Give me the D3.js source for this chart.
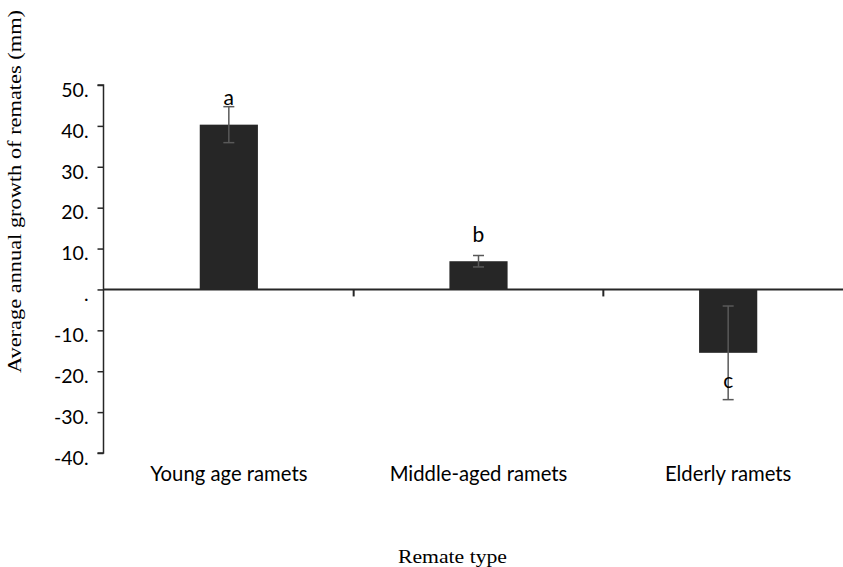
<!DOCTYPE html>
<html>
<head>
<meta charset="utf-8">
<script src="https://cdn.jsdelivr.net/npm/d3@7"></script>
<style>
  html, body { margin: 0; padding: 0; background: #fff; }
  svg { display: block; }
</style>
</head>
<body>
<svg id="chart" width="843" height="567"></svg>
<script>
// Ramet categories, mean annual growth (mm), standard errors and significance letters
const categories = ["Young age ramets", "Middle-aged ramets", "Elderly ramets"];
const growth = [40.3, 6.9, -15.5];
const errors = [4.4, 1.4, 11.45];
const letters = ["a", "b", "c"];
const yTicks = [50, 40, 30, 20, 10, 0, -10, -20, -30, -40];
const yTickLabels = ["50.", "40.", "30.", "20.", "10.", ".", "-10.", "-20.", "-30.", "-40."];

const svg = d3.select("#chart");

const x = d3.scaleBand().domain(categories).range([104, 853]).padding(0);
const y = d3.scaleLinear().domain([-40, 50]).range([453, 85]);

const barW = x.bandwidth() * 0.233;
const ink = "#262626";
const sans = "Lato, 'Open Sans', sans-serif";
const serif = "'Liberation Serif', 'Times New Roman', serif";

// y axis
const yAxis = d3.axisLeft(y)
  .tickValues(yTicks)
  .tickSize(6)
  .tickFormat((d, i) => yTickLabels[i]);
const gy = svg.append("g").attr("transform", "translate(103.5,0)").call(yAxis);
gy.select(".domain").attr("stroke", ink).attr("stroke-width", 1.5).attr("d", `M-6,${y(50)}H0V${y(-40)}H-6`);
gy.selectAll(".tick line").attr("stroke", ink).attr("stroke-width", 1.5);
gy.selectAll(".tick text")
  .attr("x", -15)
  .attr("y", 5)
  .attr("fill", "#000")
  .style("font-family", sans)
  .style("font-size", "19.5px");

// bars
svg.append("g").selectAll("rect")
  .data(categories)
  .join("rect")
  .attr("x", (d) => x(d) + x.bandwidth() / 2 - barW / 2)
  .attr("width", barW)
  .attr("y", (d, i) => Math.min(y(growth[i]), y(0)))
  .attr("height", (d, i) => Math.abs(y(growth[i]) - y(0)))
  .attr("fill", ink);

// category axis along zero
const xAxis = d3.axisBottom(x).tickSize(0).tickFormat("");
const gx = svg.append("g").attr("transform", `translate(0,${y(0)})`).call(xAxis);
gx.select(".domain").attr("stroke", ink).attr("stroke-width", 2).attr("d", `M103,0H853`);

// category boundary ticks
svg.append("g").selectAll("line")
  .data(categories.slice(1))
  .join("line")
  .attr("x1", (d) => x(d)).attr("x2", (d) => x(d))
  .attr("y1", y(0)).attr("y2", y(0) + 7)
  .attr("stroke", ink).attr("stroke-width", 2);

// category labels
svg.append("g").selectAll("text")
  .data(categories)
  .join("text")
  .attr("x", (d) => x(d) + x.bandwidth() / 2)
  .attr("y", 481)
  .attr("text-anchor", "middle")
  .style("font-family", sans)
  .style("font-size", "20.3px")
  .attr("fill", "#000")
  .text((d) => d);

// error bars
const eb = svg.append("g").attr("stroke", "#595959").attr("stroke-width", 1.5);
categories.forEach((c, i) => {
  const cx = x(c) + x.bandwidth() / 2;
  const top = y(growth[i] + errors[i]);
  const bot = y(growth[i] - errors[i]);
  eb.append("line").attr("x1", cx).attr("x2", cx).attr("y1", top).attr("y2", bot);
  eb.append("line").attr("x1", cx - 5.5).attr("x2", cx + 5.5).attr("y1", top).attr("y2", top);
  eb.append("line").attr("x1", cx - 5.5).attr("x2", cx + 5.5).attr("y1", bot).attr("y2", bot);
});

// significance letters
const letterY = [y(growth[0] + errors[0]) - 2, y(growth[1] + errors[1]) - 14, 388];
svg.append("g").selectAll("text")
  .data(letters)
  .join("text")
  .attr("x", (d, i) => x(categories[i]) + x.bandwidth() / 2)
  .attr("y", (d, i) => letterY[i])
  .attr("text-anchor", "middle")
  .style("font-family", sans)
  .style("font-size", "21px")
  .attr("fill", "#000")
  .text((d) => d);

// axis titles
svg.append("text")
  .attr("transform", "translate(21,191.5) rotate(-90)")
  .attr("text-anchor", "middle")
  .attr("textLength", 363)
  .attr("lengthAdjust", "spacingAndGlyphs")
  .style("font-family", serif)
  .style("font-size", "19px")
  .attr("fill", "#000")
  .text("Average annual growth of  remates (mm)");

svg.append("text")
  .attr("x", 452.5)
  .attr("y", 563)
  .attr("text-anchor", "middle")
  .attr("textLength", 109)
  .attr("lengthAdjust", "spacingAndGlyphs")
  .style("font-family", serif)
  .style("font-size", "19px")
  .attr("fill", "#000")
  .text("Remate type");
</script>
</body>
</html>
